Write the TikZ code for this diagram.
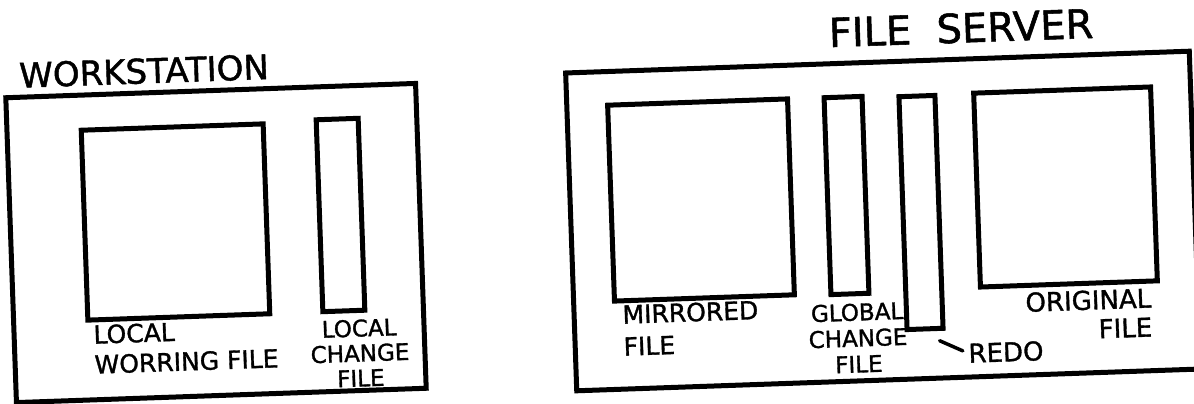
\documentclass[tikz,border=0pt]{standalone}
\usepackage{fontspec}
\newfontfamily\hand{DejaVu Sans}[FakeBold=1.3]
\begin{document}
\begin{tikzpicture}[x=1pt,y=-1pt,
    box/.style 2 args={draw,line width=5pt,rotate=2,inner sep=0pt,minimum width=#1,minimum height=#2},
    lbl/.style={rotate=2,inner sep=0pt,font=\hand\fontsize{26}{29}\selectfont},
    lead/.style={line width=3.5pt,line cap=round}]
    \useasboundingbox (0,0) rectangle (1194,404);
    % workstation side
    \node[lbl,font=\hand\fontsize{34}{36}\selectfont] (wstitle) at (144,71) {WORKSTATION};
    \node[box={410}{305}] (ws) at (216,243) {};
    \node[box={182}{190}] (lw) at (175.5,222) {};
    \node[box={42}{192}] (lc) at (340.5,215) {};
    \node[lbl,align=left,anchor=north west,font=\hand\fontsize{25}{30}\selectfont] (lwtxt) at (93,325) {LOCAL\\WORRING FILE};
    \node[lbl,align=center,font=\hand\fontsize{23}{25}\selectfont] (lctxt) at (360,353) {LOCAL\\CHANGE\\FILE};
    % file server side
    \node[lbl,font=\hand\fontsize{40}{40}\selectfont] (fstitle) at (961,28) {FILE\ \ SERVER};
    \node[box={624}{318}] (fs) at (883,221) {};
    \node[box={180}{196}] (mf) at (701,200) {};
    \node[box={38}{197}] (gc) at (846.5,195.5) {};
    \node[box={36}{233}] (rb) at (921,212.5) {};
    \node[box={177}{194}] (of) at (1065.5,187) {};
    \node[lbl,align=left,anchor=north west,font=\hand\fontsize{25}{32}\selectfont] (mftxt) at (622,305) {MIRRORED\\FILE};
    \node[lbl,align=center,font=\hand\fontsize{23}{26}\selectfont] (gctxt) at (858,338) {GLOBAL\\CHANGE\\FILE};
    \node[lbl,align=right,anchor=north east] (oftxt) at (1151,288) {ORIGINAL\\FILE};
    \node[lbl] (redo) at (1006,352) {REDO};
    \draw[lead,shorten >=6pt] ([shift={(-6,10)}]rb.south east) -- (redo.west);
\end{tikzpicture}
\end{document}
